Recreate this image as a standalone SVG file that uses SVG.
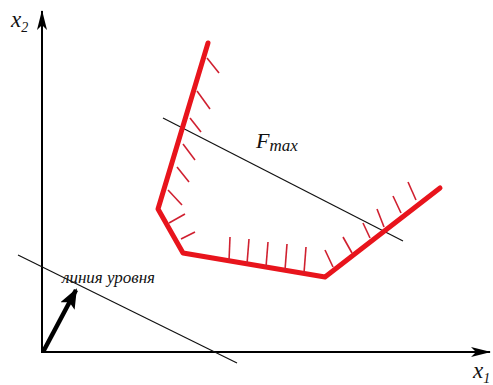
<svg xmlns="http://www.w3.org/2000/svg" width="493" height="385" viewBox="0 0 493 385">
<defs>
<style>
.ax{stroke:#000;stroke-width:2;fill:none}
.ln{stroke:#111;stroke-width:1.2;fill:none}
.bd{stroke:#e8141c;stroke-width:5;fill:none;stroke-linejoin:round;stroke-linecap:round}
.ht{stroke:#d02030;stroke-width:1.6;fill:none}
.t{font-family:"Liberation Serif","DejaVu Serif",serif;font-style:italic;fill:#111}
</style>
<marker id="ah" viewBox="0 0 20 10" refX="19" refY="5" markerWidth="20" markerHeight="10" markerUnits="userSpaceOnUse" orient="auto">
<path d="M0,0 L20,5 L0,10 L5,5 Z" fill="#000"/>
</marker>
<marker id="vh" viewBox="0 0 20 16" refX="18" refY="8" markerWidth="20" markerHeight="16" markerUnits="userSpaceOnUse" orient="auto">
<path d="M0,0 L20,8 L0,16 L4,8 Z" fill="#000"/>
</marker>
</defs>
<rect width="493" height="385" fill="#fff"/>
<g id="connectors">
<line class="ax" x1="42" y1="353" x2="42" y2="11" marker-end="url(#ah)"/>
<line class="ax" x1="41" y1="352" x2="490" y2="352" marker-end="url(#ah)"/>
<line class="ln" x1="163" y1="118" x2="403" y2="241"/>
<line class="ln" x1="18" y1="255" x2="237" y2="363"/>
<line x1="43" y1="352" x2="76" y2="290" stroke="#000" stroke-width="4.5" marker-end="url(#vh)"/>
</g>
<g id="region">
<polyline class="bd" points="208,43 158,209 183,253 325,277 440,188"/>
<g class="ht">
<line x1="207" y1="58" x2="219" y2="73"/>
<line x1="197" y1="91" x2="210" y2="109"/>
<line x1="190" y1="118" x2="201" y2="132"/>
<line x1="183" y1="144" x2="195" y2="160"/>
<line x1="177" y1="167" x2="189" y2="182"/>
<line x1="168" y1="190" x2="182" y2="205"/>
<line x1="169" y1="223" x2="185" y2="214"/>
<line x1="181" y1="239" x2="195" y2="232"/>
<line x1="230" y1="237" x2="229" y2="261"/>
<line x1="249" y1="239" x2="247" y2="264"/>
<line x1="268" y1="242" x2="266" y2="267"/>
<line x1="287" y1="244" x2="285" y2="270"/>
<line x1="306" y1="247" x2="304" y2="273"/>
<line x1="325" y1="250" x2="333" y2="267"/>
<line x1="343" y1="237" x2="352" y2="253"/>
<line x1="363" y1="223" x2="370" y2="238"/>
<line x1="377" y1="209" x2="384" y2="227"/>
<line x1="393" y1="196" x2="401" y2="213"/>
<line x1="408" y1="182" x2="416" y2="200"/>
</g>
</g>
<g id="labels">
<text class="t" x="11" y="27" font-size="23">x<tspan font-size="14" dy="5">2</tspan></text>
<text class="t" x="473" y="378" font-size="23">x<tspan font-size="14" dy="5">1</tspan></text>
<text class="t" x="256" y="148" font-size="22">F<tspan font-size="17" dy="3">max</tspan></text>
<text class="t" x="62" y="283" font-size="16" textLength="93" lengthAdjust="spacingAndGlyphs">линия уровня</text>
</g>
</svg>
